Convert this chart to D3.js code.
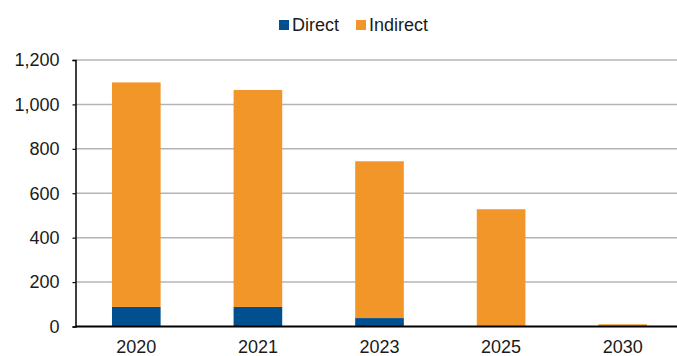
<!DOCTYPE html>
<html>
<head>
<meta charset="utf-8">
<script src="https://cdn.jsdelivr.net/npm/d3@7"></script>
<style>
  html, body { margin: 0; padding: 0; background: #fff; }
  svg { display: block; font-family: "Liberation Sans", Arial, sans-serif; }
</style>
</head>
<body>
<svg id="chart" width="677" height="356"></svg>
<script>
// Years shown on the x axis
const years = ["2020", "2021", "2023", "2025", "2030"];
// Stacked series values
const direct = [88, 88, 38, 0, 0];
const indirect = [1011, 977, 706, 528, 10];
const seriesNames = ["Direct", "Indirect"];
const seriesColors = ["#00508f", "#f3962a"];
const yTicks = [0, 200, 400, 600, 800, 1000, 1200];

(function draw() {
  const svg = d3.select("#chart");
  const W = 677;
  const plotLeft = 75.5, plotRight = 683.5, plotTop = 60, plotBottom = 326.5;

  const x = d3.scaleBand().domain(years).range([plotLeft, plotRight])
    .paddingInner(0.6).paddingOuter(0.3);
  const y = d3.scaleLinear().domain([0, 1200]).range([plotBottom, plotTop]);

  // Horizontal gridlines
  svg.append("g").selectAll("line")
    .data(yTicks.filter(t => t > 0))
    .join("line")
    .attr("x1", plotLeft).attr("x2", W)
    .attr("y1", d => y(d)).attr("y2", d => y(d))
    .attr("stroke", "#b4b4b4").attr("stroke-width", 1.5);

  // Stacked bars
  const rows = years.map((yr, i) => ({ year: yr, Direct: direct[i], Indirect: indirect[i] }));
  const stack = d3.stack().keys(seriesNames)(rows);
  svg.append("g").selectAll("g")
    .data(stack)
    .join("g")
    .attr("fill", (d, i) => seriesColors[i])
    .selectAll("rect")
    .data(d => d)
    .join("rect")
    .attr("x", d => x(d.data.year))
    .attr("width", x.bandwidth())
    .attr("y", d => y(d[1]))
    .attr("height", d => Math.max(0, y(d[0]) - y(d[1])));

  // Y axis
  const yAxis = d3.axisLeft(y).tickValues(yTicks).tickSize(3).tickPadding(13)
    .tickFormat(d3.format(","));
  const gy = svg.append("g").attr("transform", `translate(${plotLeft},0)`).call(yAxis);
  gy.select(".domain").attr("stroke", "#000").attr("stroke-width", 1.5);
  gy.selectAll(".tick line").attr("stroke", "#000").attr("stroke-width", 1.2);
  gy.selectAll(".tick text").attr("font-size", 18).attr("fill", "#1a1a1a")
    .attr("font-family", "Liberation Sans, Arial, sans-serif");

  // X axis
  const xAxis = d3.axisBottom(x).tickSize(0).tickPadding(14);
  const gx = svg.append("g").attr("transform", `translate(0,${plotBottom})`).call(xAxis);
  gx.select(".domain").attr("d", `M${plotLeft},0H${W}`).attr("stroke", "#000").attr("stroke-width", 2.2);
  gx.selectAll(".tick text").attr("font-size", 18).attr("fill", "#1a1a1a")
    .attr("font-family", "Liberation Sans, Arial, sans-serif");

  // Legend
  const legendItems = [
    { name: seriesNames[0], color: seriesColors[0], x: 279 },
    { name: seriesNames[1], color: seriesColors[1], x: 356 }
  ];
  const lg = svg.append("g");
  legendItems.forEach(it => {
    lg.append("rect").attr("x", it.x).attr("y", 20).attr("width", 10).attr("height", 10)
      .attr("fill", it.color);
    lg.append("text").attr("x", it.x + 13).attr("y", 31)
      .attr("font-size", 18).attr("fill", "#1a1a1a").text(it.name);
  });
})();
</script>
</body>
</html>
